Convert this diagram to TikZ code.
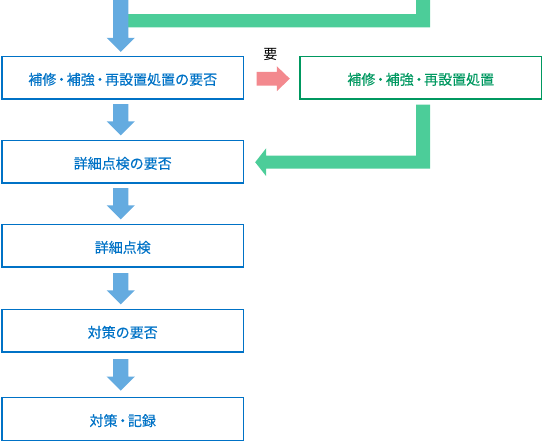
\documentclass[tikz,border=0pt]{standalone}
\usepackage{fontspec}
\setmainfont{Noto Sans CJK JP}
\newfontfamily\cjkmed{Noto Sans CJK JP}[FakeBold=0.3]
\usetikzlibrary{calc}
\definecolor{boxblue}{RGB}{0,114,198}
\definecolor{arrblue}{RGB}{100,171,224}
\definecolor{arrgreen}{RGB}{76,205,153}
\definecolor{boxgreen}{RGB}{0,152,96}
\definecolor{arrred}{RGB}{243,137,142}
\newcommand{\dt}{\kern-1.8pt・\kern-1.8pt}
% vertical block arrow: #1 style, #2 start point, #3 tip point
\newcommand{\blockdown}[3]{%
  \fill[#1] let \p1=#2, \p2=#3 in
    (\x1-7.7pt,\y1) -- (\x1+7.7pt,\y1) -- (\x1+7.7pt,\y2+14pt) -- (\x1+14.2pt,\y2+14pt)
    -- (\x1,\y2) -- (\x1-14.2pt,\y2+14pt) -- (\x1-7.7pt,\y2+14pt) -- cycle;}
\begin{document}
\begin{tikzpicture}[x=1pt,y=-1pt,
  box/.style={draw=boxblue, line width=1.4pt, minimum width=241.5pt, minimum height=42.5pt,
    text=boxblue, font=\cjkmed\fontsize{14}{16}\selectfont, inner sep=0pt,
    text height=14pt, text depth=0pt},
  gbox/.style={box, draw=boxgreen, text=boxgreen},
  lbl/.style={font=\fontsize{14}{16}\selectfont, text=black, inner sep=0pt}]
\useasboundingbox (0,0) rectangle (546,442);
\node[box] (b1) at (122.75,77.7) {補修\dt 補強\dt 再設置処置の要否};
\node[box] (b2) at (122.75,161.7) {詳細点検の要否};
\node[box] (b3) at (122.75,245.7) {詳細点検};
\node[box] (b4) at (122.75,330.7) {対策の要否};
\node[box] (b5) at (122.75,419) {対策\dt 記録};
\node[gbox] (r) at (420.75,77.7) {補修\dt 補強\dt 再設置処置};
\coordinate (top) at (120.75,0);
\coordinate (gt) at (423,0);
% green bar from top
\fill[arrgreen] let \p1=(gt), \p2=(top) in
  (\x1-7pt,\y1) -- (\x1+7pt,\y1) -- (\x1+7pt,\y1-27.3pt) -- (\x2,\y1-27.3pt)
  -- (\x2,\y1-14pt) -- (\x1-7pt,\y1-14pt) -- cycle;
% blue arrows
\blockdown{arrblue}{(top)}{($(b1.north)+(-2,-4)$)}
\blockdown{arrblue}{($(b1.south)+(-2,4.5)$)}{($(b2.north)+(-2,-4.5)$)}
\blockdown{arrblue}{($(b2.south)+(-2,4.5)$)}{($(b3.north)+(-2,-4.5)$)}
\blockdown{arrblue}{($(b3.south)+(-2,5.5)$)}{($(b4.north)+(-2,-4.5)$)}
\blockdown{arrblue}{($(b4.south)+(-2,6.5)$)}{($(b5.north)+(-2,-6.5)$)}
% red arrow
\fill[arrred] let \p1=($(b1.east)+(12.5,1)$), \p2=($(r.west)+(-9.5,1)$) in
  (\x1,\y1+6.9pt) -- (\x2-13pt,\y1+6.9pt) -- (\x2-13pt,\y1+12.5pt) -- (\x2,\y1)
  -- (\x2-13pt,\y1-12.5pt) -- (\x2-13pt,\y1-6.9pt) -- (\x1,\y1-6.9pt) -- cycle;
\node[lbl] (yo) at ($(b1.east)!0.5!(r.west)+(-1.3,-23.7)$) {要};
% green return arrow
\fill[arrgreen] let \p1=($(r.south)+(2.25,5)$), \p2=($(b2.east)+(11,0.5)$) in
  (\x1-7pt,\y1) -- (\x1+7pt,\y1) -- (\x1+7pt,\y2-6.5pt) -- (\x2+11pt,\y2-6.5pt)
  -- (\x2+11pt,\y2-14pt) -- (\x2,\y2) -- (\x2+11pt,\y2+14pt) -- (\x2+11pt,\y2+6.5pt)
  -- (\x1-7pt,\y2+6.5pt) -- cycle;
\end{tikzpicture}
\end{document}
